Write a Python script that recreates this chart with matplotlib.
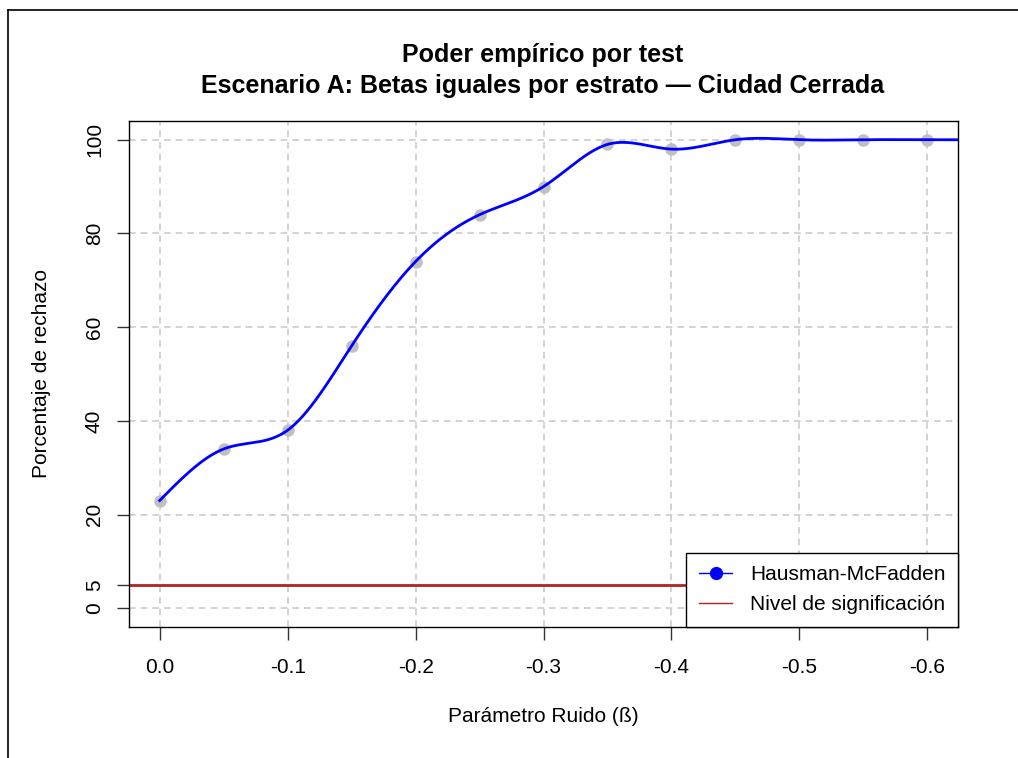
import matplotlib
matplotlib.use("Agg")
import matplotlib.pyplot as plt
import numpy as np
from matplotlib.lines import Line2D

plt.rcParams['font.family'] = ['Liberation Sans', 'DejaVu Sans']

# noise parameter and empirical rejection rate (%)
beta = [0.0, -0.05, -0.1, -0.15, -0.2, -0.25, -0.3, -0.35, -0.4, -0.45, -0.5, -0.55, -0.6]
rechazo = [23, 34, 38, 56, 74, 84, 90, 99, 98, 100, 100, 100, 100]
nivel = 5
xticks = [0.0, -0.1, -0.2, -0.3, -0.4, -0.5, -0.6]
yticks = [0, 5, 20, 40, 60, 80, 100]
ygrid = [0, 20, 40, 60, 80, 100]


def natural_spline(x, y, xs):
    # plain natural cubic spline, x ascending
    x = np.asarray(x, float)
    y = np.asarray(y, float)
    n = len(x)
    h = np.diff(x)
    A = np.zeros((n, n))
    r = np.zeros(n)
    A[0, 0] = 1
    A[-1, -1] = 1
    for i in range(1, n - 1):
        A[i, i - 1] = h[i - 1]
        A[i, i] = 2 * (h[i - 1] + h[i])
        A[i, i + 1] = h[i]
        r[i] = 6 * ((y[i + 1] - y[i]) / h[i] - (y[i] - y[i - 1]) / h[i - 1])
    m = np.linalg.solve(A, r)
    idx = np.clip(np.searchsorted(x, xs) - 1, 0, n - 2)
    x0, x1 = x[idx], x[idx + 1]
    hh = x1 - x0
    a = (x1 - xs) / hh
    b = (xs - x0) / hh
    return (a * y[idx] + b * y[idx + 1]
            + ((a ** 3 - a) * m[idx] + (b ** 3 - b) * m[idx + 1]) * hh ** 2 / 6)


t = -np.array(beta)
ts = np.linspace(0, 0.65, 600)
curva = natural_spline(t, rechazo, ts)

fig = plt.figure(figsize=(10.18, 7.58), dpi=100)
ax = fig.add_axes([129 / 1018, 1 - 627 / 758, 829 / 1018, 506 / 758])

for gx in xticks:
    ax.axvline(gx, color='#cccccc', lw=1.2, ls=(0, (4, 3)), zorder=1)
for gy in ygrid:
    ax.axhline(gy, color='#cccccc', lw=1.2, ls=(0, (4, 3)), zorder=1)

ax.axhline(nivel, color='#b22222', lw=2, zorder=2)
ax.plot(beta, rechazo, 'o', color='#c0c0c0', ms=9, mec='none', zorder=3)
ax.plot(-ts, curva, color='#0000ff', lw=2, zorder=4)

ax.set_xlim(0.024, -0.624)
ax.set_ylim(-4, 104)
ax.set_xticks(xticks)
ax.set_xticklabels(['0.0', '-0.1', '-0.2', '-0.3', '-0.4', '-0.5', '-0.6'])
ax.set_yticks(yticks)
ax.set_yticklabels([str(v) for v in yticks], rotation=90, va='center')
ax.tick_params(axis='both', direction='out', length=9, width=1, color='#333333',
               labelsize=15, pad=13)
ax.tick_params(axis='y', pad=9)
for s in ax.spines.values():
    s.set_color('black')
    s.set_linewidth(1)

handles = [
    Line2D([], [], color='#0000ff', lw=1, marker='o', ms=8.5),
    Line2D([], [], color='#b22222', lw=1),
]
leg = ax.legend(handles, ['Hausman-McFadden', 'Nivel de significación'],
                loc='lower right', borderaxespad=0, fancybox=False,
                edgecolor='black', framealpha=1, fontsize=15,
                handlelength=1.6, handletextpad=0.85, borderpad=0.6,
                labelspacing=0.55)
leg.get_frame().set_linewidth(1)
leg.set_zorder(5)

fig.text(543 / 1018, 1 - 55 / 758, 'Poder empírico por test',
         ha='center', va='center', fontsize=18, fontweight='bold')
fig.text(543 / 1018, 1 - 86 / 758,
         'Escenario A: Betas iguales por estrato — Ciudad Cerrada',
         ha='center', va='center', fontsize=18, fontweight='bold')
fig.text(543 / 1018, 1 - 716 / 758, 'Parámetro Ruido (ß)',
         ha='center', va='center', fontsize=15)
fig.text(42 / 1018, 1 - 374 / 758, 'Porcentaje de rechazo',
         ha='center', va='center', rotation=90, fontsize=15)

# outer frame lines on top and left
fig.add_artist(Line2D([8 / 1018, 1], [1 - 10 / 758] * 2, color='black', lw=1.2,
                      transform=fig.transFigure))
fig.add_artist(Line2D([8 / 1018] * 2, [0, 1 - 10 / 758], color='black', lw=1.2,
                      transform=fig.transFigure))

fig.savefig('out.png', dpi=100)
